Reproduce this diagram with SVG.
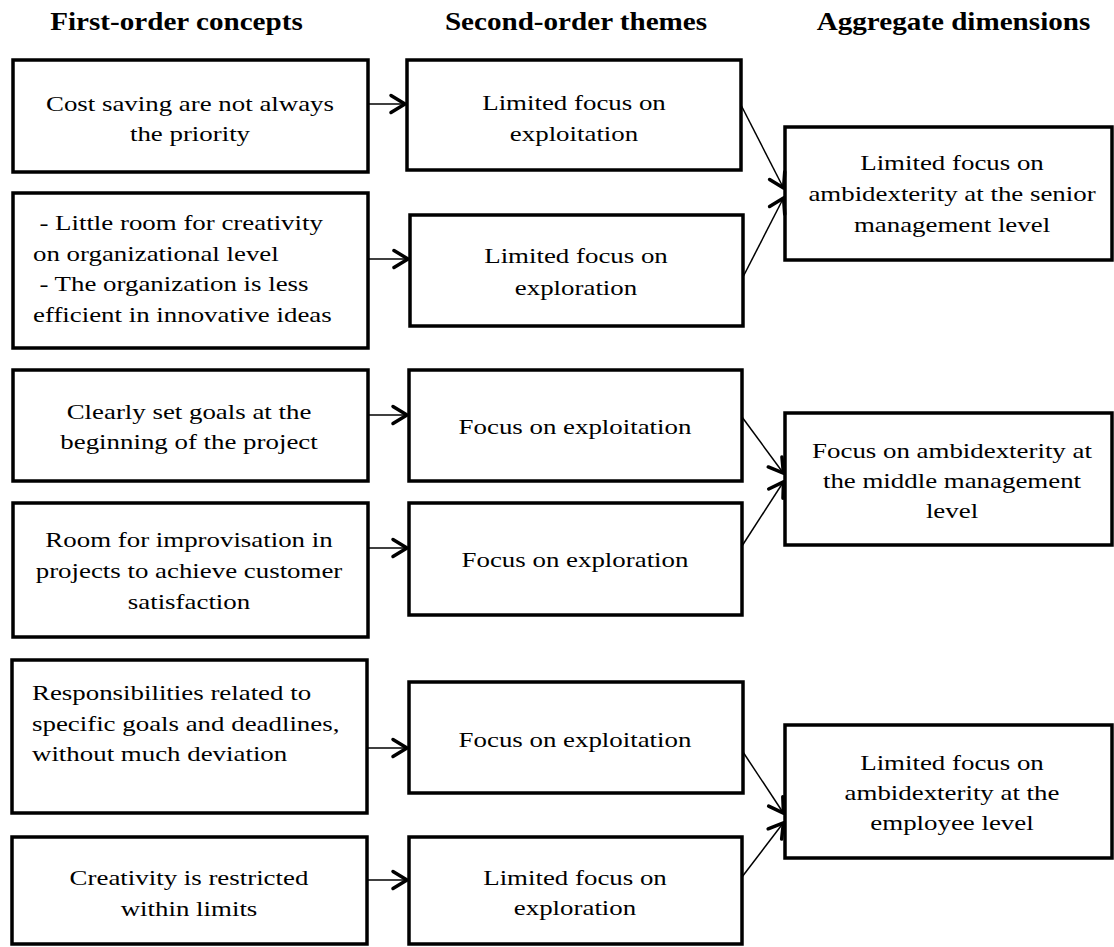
<svg xmlns="http://www.w3.org/2000/svg" width="1114" height="947" viewBox="0 0 1114 947">
<style>
.box{fill:#fff;stroke:#000;stroke-width:3.5}
.t{font-family:"Liberation Serif","Times New Roman",serif;font-size:21px;fill:#000}
.h{font-family:"Liberation Serif","Times New Roman",serif;font-size:26px;font-weight:bold;fill:#000}
.c{text-anchor:middle}
.con line{stroke:#000;stroke-width:1.5;marker-end:url(#ah)}
</style>
<defs>
<marker id="ah" markerUnits="userSpaceOnUse" viewBox="-18 -12 20 24" markerWidth="20" markerHeight="24" refX="0" refY="0" orient="auto">
<path d="M-15,-8.5 L-1,0 L-15,8.5" fill="none" stroke="#000" stroke-width="3.5" stroke-linecap="round" stroke-linejoin="round"/>
</marker>
</defs>
<rect width="1114" height="947" fill="#fff"/>
<g id="headers">
<text class="h c" transform="translate(176.5 0) scale(1.12 1)" x="0" y="30">First-order concepts</text>
<text class="h c" transform="translate(576 0) scale(1.12 1)" x="0" y="30">Second-order themes</text>
<text class="h c" transform="translate(953.5 0) scale(1.12 1)" x="0" y="30">Aggregate dimensions</text>
</g>
<g id="f1"><rect class="box" x="13" y="60" width="355" height="112"/>
<text class="t c" transform="translate(190 0) scale(1.28 1)"><tspan x="0" y="111">Cost saving are not always</tspan><tspan x="0" y="141">the priority</tspan></text></g>
<g id="f2"><rect class="box" x="13" y="193" width="355" height="155"/>
<text class="t" transform="translate(33 0) scale(1.28 1)"><tspan x="5" y="230">- Little room for creativity</tspan><tspan x="0" y="261">on organizational level</tspan><tspan x="5" y="291">- The organization is less</tspan><tspan x="0" y="322">efficient in innovative ideas</tspan></text></g>
<g id="f3"><rect class="box" x="13" y="370" width="355" height="111"/>
<text class="t c" transform="translate(189 0) scale(1.28 1)"><tspan x="0" y="419">Clearly set goals at the</tspan><tspan x="0" y="449">beginning of the project</tspan></text></g>
<g id="f4"><rect class="box" x="13" y="503" width="355" height="134"/>
<text class="t c" transform="translate(189 0) scale(1.28 1)"><tspan x="0" y="547">Room for improvisation in</tspan><tspan x="0" y="578">projects to achieve customer</tspan><tspan x="0" y="609">satisfaction</tspan></text></g>
<g id="f5"><rect class="box" x="12" y="660" width="355" height="153"/>
<text class="t" transform="translate(32 0) scale(1.28 1)"><tspan x="0" y="700">Responsibilities related to</tspan><tspan x="0" y="731">specific goals and deadlines,</tspan><tspan x="0" y="761">without much deviation</tspan></text></g>
<g id="f6"><rect class="box" x="12" y="837" width="355" height="107"/>
<text class="t c" transform="translate(189 0) scale(1.28 1)"><tspan x="0" y="885">Creativity is restricted</tspan><tspan x="0" y="916">within limits</tspan></text></g>
<g id="s1"><rect class="box" x="407" y="60" width="334" height="110"/>
<text class="t c" transform="translate(574 0) scale(1.28 1)"><tspan x="0" y="110">Limited focus on</tspan><tspan x="0" y="141">exploitation</tspan></text></g>
<g id="s2"><rect class="box" x="410" y="215" width="333" height="111"/>
<text class="t c" transform="translate(576 0) scale(1.28 1)"><tspan x="0" y="263">Limited focus on</tspan><tspan x="0" y="295">exploration</tspan></text></g>
<g id="s3"><rect class="box" x="409" y="370" width="333" height="111"/>
<text class="t c" transform="translate(575 0) scale(1.28 1)" x="0" y="434">Focus on exploitation</text></g>
<g id="s4"><rect class="box" x="409" y="503" width="333" height="112"/>
<text class="t c" transform="translate(575 0) scale(1.28 1)" x="0" y="567">Focus on exploration</text></g>
<g id="s5"><rect class="box" x="409" y="682" width="334" height="111"/>
<text class="t c" transform="translate(575 0) scale(1.28 1)" x="0" y="747">Focus on exploitation</text></g>
<g id="s6"><rect class="box" x="409" y="837" width="333" height="107"/>
<text class="t c" transform="translate(575 0) scale(1.28 1)"><tspan x="0" y="885">Limited focus on</tspan><tspan x="0" y="915">exploration</tspan></text></g>
<g id="a1"><rect class="box" x="785" y="127" width="327" height="133"/>
<text class="t c" transform="translate(952 0) scale(1.28 1)"><tspan x="0" y="170">Limited focus on</tspan><tspan x="0" y="201">ambidexterity at the senior</tspan><tspan x="0" y="232">management level</tspan></text></g>
<g id="a2"><rect class="box" x="785" y="413" width="327" height="132"/>
<text class="t c" transform="translate(952 0) scale(1.28 1)"><tspan x="0" y="458">Focus on ambidexterity at</tspan><tspan x="0" y="488">the middle management</tspan><tspan x="0" y="518">level</tspan></text></g>
<g id="a3"><rect class="box" x="785" y="725" width="327" height="133"/>
<text class="t c" transform="translate(952 0) scale(1.28 1)"><tspan x="0" y="770">Limited focus on</tspan><tspan x="0" y="800">ambidexterity at the</tspan><tspan x="0" y="830">employee level</tspan></text></g>
<g id="connectors" class="con">
<line x1="368" y1="104" x2="406" y2="104"/>
<line x1="368" y1="259" x2="409" y2="259"/>
<line x1="368" y1="415" x2="408" y2="415"/>
<line x1="368" y1="548" x2="408" y2="548"/>
<line x1="367" y1="748" x2="408" y2="748"/>
<line x1="367" y1="880" x2="408" y2="880"/>
<line x1="741" y1="105" x2="784" y2="189"/>
<line x1="743" y1="277" x2="784" y2="197"/>
<line x1="742" y1="417" x2="784" y2="474"/>
<line x1="742" y1="546" x2="784" y2="481"/>
<line x1="743" y1="752" x2="784" y2="814"/>
<line x1="742" y1="877" x2="784" y2="822"/>
</g>
</svg>
